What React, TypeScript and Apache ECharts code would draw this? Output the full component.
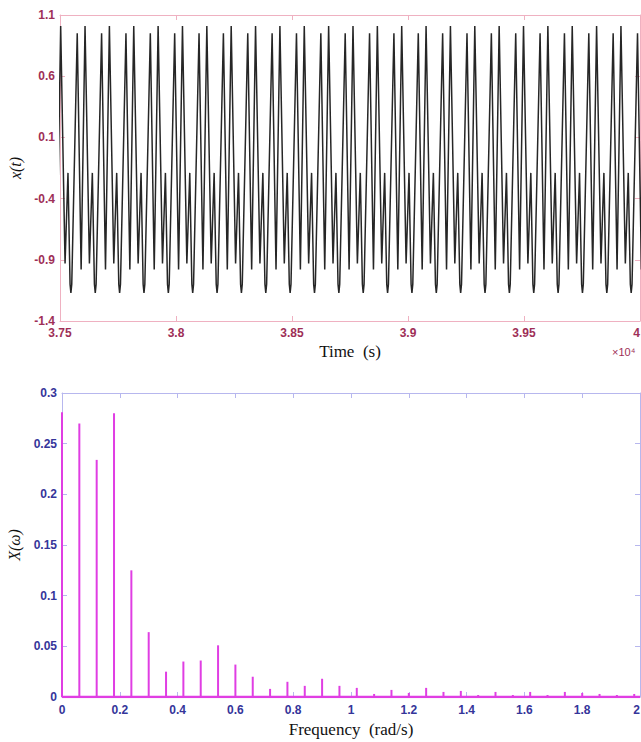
import React, { useEffect, useRef } from "react";
import * as echarts from "echarts";

// ---------- top panel: x(t) ----------
const timeMin = 37500;
const timeMax = 40000;
const timeTickStep = 500;
const xtTicks = [-1.4, -0.9, -0.4, 0.1, 0.6, 1.1];

// shape of one oscillation cycle (phase within a cycle, value)
const cyclePhase = [-0.035, 0, 0.035, 0.26, 0.42, 0.58, 0.76, 0.88];
const cycleValue = [-1.1, -1.17, -1.1, 0.95, -0.98, 1.01, -0.93, -0.19];
const cycleLength = 105; // seconds between deep troughs
// times of the deep troughs (about -1.17) read along the time axis
const troughTimes = [
  37442, 37547, 37652, 37757, 37862, 37967, 38072, 38177, 38282, 38387,
  38492, 38597, 38702, 38807, 38912, 39017, 39122, 39227, 39332, 39437,
  39542, 39647, 39752, 39857, 39962, 40067,
];

// ---------- bottom panel: spectrum ----------
const freqs = [
  0, 0.06, 0.12, 0.18, 0.24, 0.3, 0.36, 0.42, 0.48, 0.54, 0.6, 0.66, 0.72,
  0.78, 0.84, 0.9, 0.96, 1.02, 1.08, 1.14, 1.2, 1.26, 1.32, 1.38, 1.44, 1.5,
  1.56, 1.62, 1.68, 1.74, 1.8, 1.86, 1.92, 1.98,
];
const amps = [
  0.281, 0.27, 0.234, 0.28, 0.125, 0.064, 0.025, 0.035, 0.036, 0.051, 0.032,
  0.02, 0.008, 0.015, 0.011, 0.018, 0.011, 0.009, 0.003, 0.007, 0.004, 0.009,
  0.005, 0.006, 0.002, 0.005, 0.002, 0.005, 0.002, 0.005, 0.004, 0.003, 0.002,
  0.003,
];
const freqMin = 0;
const freqMax = 2;
const freqStep = 0.2;
const ampMin = 0;
const ampMax = 0.3;
const ampStep = 0.05;

const topLabel = "#9e2f57";
const topFrame = "#efb1c1";
const botLabel = "#35359a";
const botFrame = "#b7b7ee";
const stemColor = "#e03ee3";

export default function App() {
  const ref = useRef<HTMLDivElement>(null);
  useEffect(() => {
    document.body.style.margin = "0";
    if (!ref.current) return;
    const chart = echarts.init(ref.current, undefined, { renderer: "svg" });

    const wave: number[][] = [];
    troughTimes.forEach((t0) => {
      cyclePhase.forEach((p, i) => {
        wave.push([t0 + p * cycleLength, cycleValue[i]]);
      });
    });

    const labelFont = {
      fontFamily: "Liberation Sans, Arial, sans-serif",
      fontSize: 12,
      fontWeight: 600,
    };
    const titleFont = {
      fontFamily: "Liberation Serif, Times New Roman, serif",
      fontSize: 17,
      color: "#111",
    };

    const frameAxis = (color: string) => ({
      axisLine: { show: true, onZero: false, lineStyle: { color, width: 1 } },
      axisTick: { show: true, inside: true, length: 5, lineStyle: { color } },
      splitLine: { show: false },
    });

    chart.setOption({
      animation: false,
      backgroundColor: "#ffffff",
      grid: [
        { left: 60, top: 15, width: 580, height: 306, show: false, outerBoundsMode: "none", containLabel: false },
        { left: 62, top: 393, width: 578, height: 304, show: false, outerBoundsMode: "none", containLabel: false },
      ],
      xAxis: [
        {
          gridIndex: 0,
          type: "value",
          min: timeMin,
          max: timeMax,
          interval: timeTickStep,
          position: "bottom",
          ...frameAxis(topFrame),
          axisLabel: {
            ...labelFont,
            color: topLabel,
            margin: 6,
            alignMaxLabel: "right",
            formatter: (v: number) => String(+(v / 10000).toFixed(3)),
          },
          name: "Time  (s)",
          nameLocation: "middle",
          nameGap: 22,
          nameTextStyle: titleFont,
        },
        {
          gridIndex: 0,
          type: "value",
          min: timeMin,
          max: timeMax,
          interval: timeTickStep,
          position: "top",
          ...frameAxis(topFrame),
          axisLabel: { show: false },
        },
        {
          gridIndex: 1,
          type: "value",
          min: freqMin,
          max: freqMax,
          interval: freqStep,
          position: "bottom",
          ...frameAxis(botFrame),
          axisLabel: { ...labelFont, color: botLabel, margin: 7, alignMaxLabel: "right" },
          name: "Frequency  (rad/s)",
          nameLocation: "middle",
          nameGap: 24,
          nameTextStyle: titleFont,
        },
        {
          gridIndex: 1,
          type: "value",
          min: freqMin,
          max: freqMax,
          interval: freqStep,
          position: "top",
          ...frameAxis(botFrame),
          axisLabel: { show: false },
        },
      ],
      yAxis: [
        {
          gridIndex: 0,
          type: "value",
          min: xtTicks[0],
          max: xtTicks[xtTicks.length - 1],
          position: "left",
          ...frameAxis(topFrame),
          axisTick: {
            show: true,
            inside: true,
            length: 5,
            lineStyle: { color: topFrame },
            customValues: xtTicks,
          },
          axisLabel: { ...labelFont, color: topLabel, margin: 5, customValues: xtTicks },
          name: "x(t)",
          nameLocation: "middle",
          nameRotate: 90,
          nameGap: 25,
          nameTextStyle: { ...titleFont, fontStyle: "italic", fontSize: 16 },
        },
        {
          gridIndex: 0,
          type: "value",
          min: xtTicks[0],
          max: xtTicks[xtTicks.length - 1],
          position: "right",
          ...frameAxis(topFrame),
          axisTick: {
            show: true,
            inside: true,
            length: 5,
            lineStyle: { color: topFrame },
            customValues: xtTicks,
          },
          axisLabel: { show: false },
        },
        {
          gridIndex: 1,
          type: "value",
          min: ampMin,
          max: ampMax,
          interval: ampStep,
          position: "left",
          ...frameAxis(botFrame),
          axisLabel: { ...labelFont, color: botLabel, margin: 5 },
          name: "X(ω)",
          nameLocation: "middle",
          nameRotate: 90,
          nameGap: 28,
          nameTextStyle: { ...titleFont, fontStyle: "italic", fontSize: 16 },
        },
        {
          gridIndex: 1,
          type: "value",
          min: ampMin,
          max: ampMax,
          interval: ampStep,
          position: "right",
          ...frameAxis(botFrame),
          axisLabel: { show: false },
        },
      ],
      graphic: [
        {
          type: "text",
          left: 612,
          top: 346,
          style: {
            text: "×10⁴",
            fill: topLabel,
            font: "11px Liberation Sans, Arial, sans-serif",
          },
        },
      ],
      series: [
        {
          type: "line",
          xAxisIndex: 0,
          yAxisIndex: 0,
          data: wave,
          showSymbol: false,
          symbol: "none",
          lineStyle: { color: "#262626", width: 1.5 },
          clip: true,
        },
        {
          type: "line",
          xAxisIndex: 2,
          yAxisIndex: 2,
          data: [
            [freqMin, 0],
            [freqMax, 0],
          ],
          symbol: "none",
          lineStyle: { color: stemColor, width: 2.5 },
          z: 3,
        },
        {
          type: "bar",
          xAxisIndex: 2,
          yAxisIndex: 2,
          data: freqs.map((f, i) => [f, amps[i]]),
          barWidth: 2,
          itemStyle: { color: stemColor },
          z: 4,
        },
      ],
    });
    return () => chart.dispose();
  }, []);
  return <div ref={ref} style={{ width: 641, height: 742 }} />;
}
